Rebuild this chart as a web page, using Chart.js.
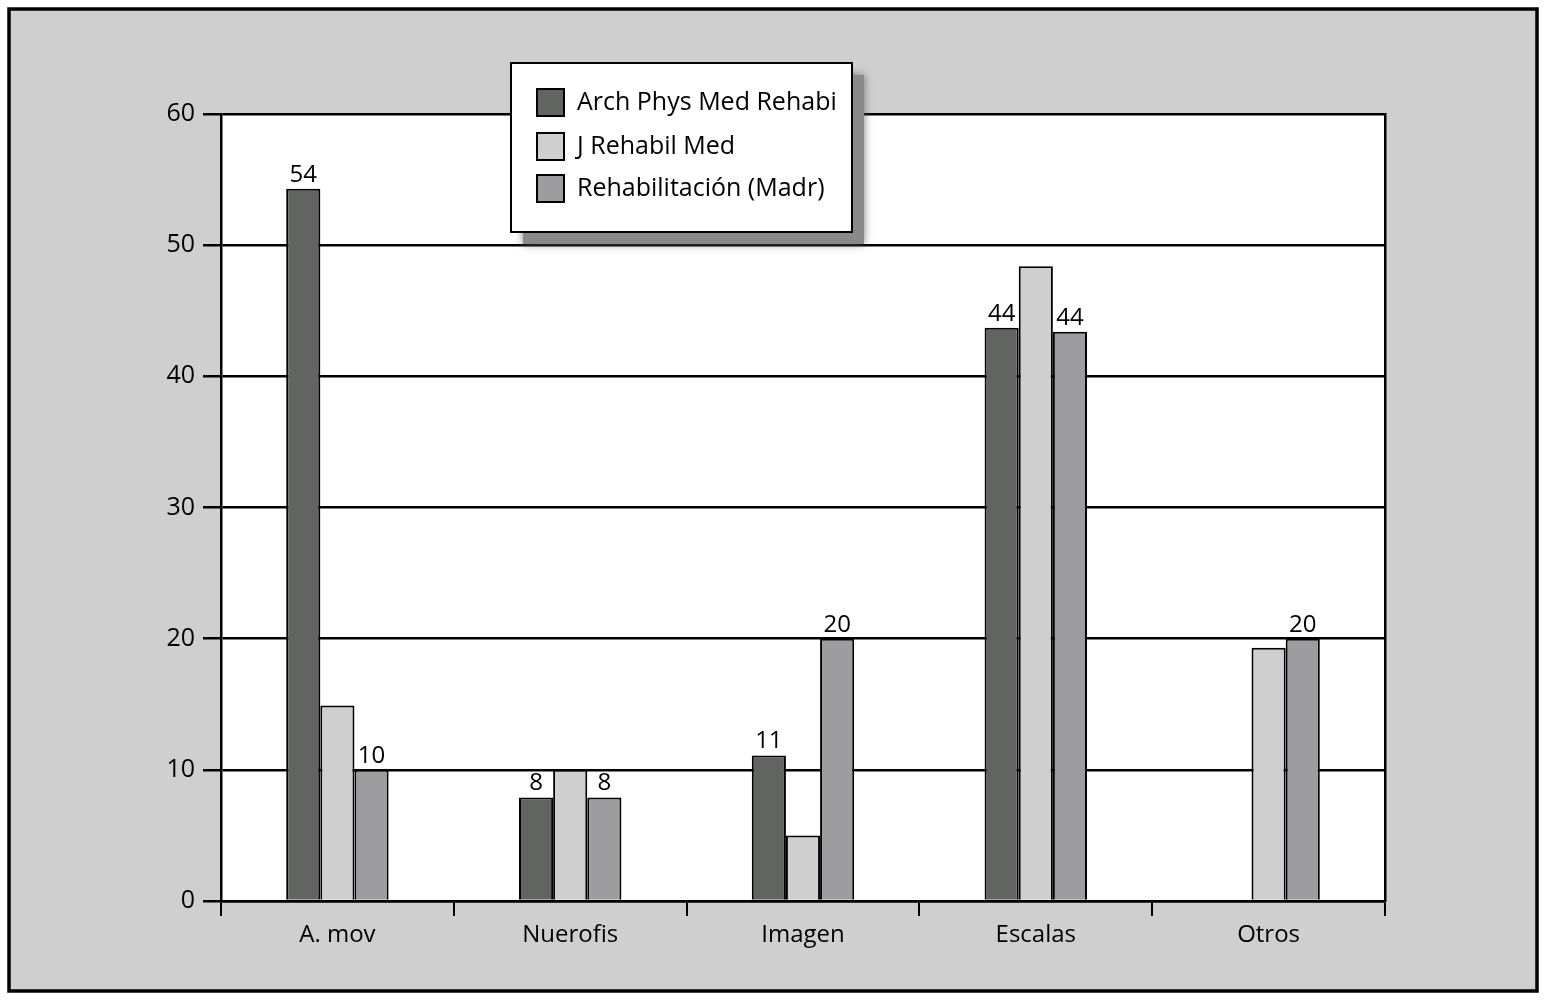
<!DOCTYPE html>
<html>
<head>
<meta charset="utf-8">
<title>Chart</title>
<script src="https://cdn.jsdelivr.net/npm/chart.js@4.4.1/dist/chart.umd.min.js"></script>
<style>
  html, body { margin: 0; padding: 0; background: #fff; }
  #wrap { width: 1555px; height: 1005px; }
</style>
</head>
<body>
<div id="wrap"><canvas id="chart"></canvas></div>
<script>
// categories
var categories = ["A. mov", "Nuerofis", "Imagen", "Escalas", "Otros"];

// series values
var archPhys = [54.3, 7.9, 11.1, 43.7, 0];
var jRehabil = [14.9, 10, 5, 48.4, 19.3];
var rehabMadr = [10, 7.9, 20, 43.4, 20];

// value labels shown above bars (null = no label)
var archPhysLabels = ["54", "8", "11", "44", null];
var jRehabilLabels = [null, null, null, null, null];
var rehabMadrLabels = ["10", "8", "20", "44", "20"];

// y ticks
var yMin = 0, yMax = 60, yStep = 10;

var FONT = "'Open Sans', 'DejaVu Sans', sans-serif";

// grey page with black frame
var background = {
    id: 'background',
    beforeDraw: function (chart) {
        var ctx = chart.ctx;
        ctx.save();
        ctx.fillStyle = '#fff';
        ctx.fillRect(0, 0, chart.width, chart.height);
        ctx.fillStyle = '#cfcfcf';
        ctx.fillRect(9, 9, 1528, 982);
        ctx.strokeStyle = '#000';
        ctx.lineWidth = 3.5;
        ctx.strokeRect(9, 9, 1528, 982);
        var a = chart.chartArea;
        ctx.fillStyle = '#fff';
        ctx.fillRect(a.left, a.top, a.right - a.left, a.bottom - a.top);
        ctx.restore();
    }
};

// numbers above some bars
var valueLabels = {
    id: 'valueLabels',
    afterDatasetsDraw: function (chart) {
        var ctx = chart.ctx;
        ctx.save();
        ctx.font = '24px ' + FONT;
        ctx.fillStyle = '#000';
        ctx.textAlign = 'center';
        ctx.textBaseline = 'bottom';
        chart.data.datasets.forEach(function (ds, i) {
            var meta = chart.getDatasetMeta(i);
            meta.data.forEach(function (bar, j) {
                var txt = ds.valueLabels[j];
                if (txt) ctx.fillText(txt, bar.x, bar.y - 2);
            });
        });
        ctx.restore();
    }
};

// boxed legend with drop shadow, floating over the plot
var boxLegend = {
    id: 'boxLegend',
    afterDraw: function (chart) {
        var ctx = chart.ctx;
        var x = 511, y = 63, w = 341, h = 169;
        ctx.save();
        ctx.fillStyle = '#8a8a8a';
        ctx.shadowColor = 'rgba(90,90,90,0.8)';
        ctx.shadowBlur = 8;
        ctx.fillRect(x + 12, y + 12, w, h);
        ctx.shadowBlur = 0;
        ctx.fillStyle = '#fff';
        ctx.fillRect(x, y, w, h);
        ctx.strokeStyle = '#000';
        ctx.lineWidth = 2;
        ctx.strokeRect(x, y, w, h);
        ctx.font = '25px ' + FONT;
        ctx.textBaseline = 'middle';
        ctx.textAlign = 'left';
        var rows = [103, 147, 189];
        chart.data.datasets.forEach(function (ds, i) {
            ctx.fillStyle = ds.backgroundColor;
            ctx.fillRect(537, rows[i] - 14, 27, 27);
            ctx.strokeRect(537, rows[i] - 14, 27, 27);
            ctx.fillStyle = '#000';
            ctx.fillText(ds.label, 577, rows[i]);
        });
        ctx.restore();
    }
};

var ctx = document.getElementById('chart').getContext('2d');
var chart = new Chart(ctx, {
    type: 'bar',
    data: {
        labels: categories,
        datasets: [{
            label: 'Arch Phys Med Rehabi',
            data: archPhys,
            valueLabels: archPhysLabels,
            backgroundColor: '#626462',
            borderColor: '#000',
            borderWidth: 2
        }, {
            label: 'J Rehabil Med',
            data: jRehabil,
            valueLabels: jRehabilLabels,
            backgroundColor: '#cfcfcf',
            borderColor: '#000',
            borderWidth: 2
        }, {
            label: 'Rehabilitación (Madr)',
            data: rehabMadr,
            valueLabels: rehabMadrLabels,
            backgroundColor: '#9d9c9e',
            borderColor: '#000',
            borderWidth: 2
        }]
    },
    options: {
        responsive: true,
        maintainAspectRatio: false,
        animation: false,
        categoryPercentage: 0.44,
        barPercentage: 1.0,
        layout: { padding: { top: 114, right: 170, left: 0, bottom: 0 } },
        plugins: {
            legend: { display: false },
            tooltip: { enabled: false }
        },
        scales: {
            x: {
                grid: {
                    offset: true,
                    drawOnChartArea: false,
                    drawTicks: true,
                    tickLength: 15,
                    color: '#000',
                    lineWidth: 2
                },
                border: { display: true, color: '#000', width: 2.5 },
                ticks: { color: '#000', font: { family: FONT, size: 24 }, padding: 5 },
                afterFit: function (scale) { scale.height = 104; }
            },
            y: {
                min: yMin,
                max: yMax,
                ticks: { stepSize: yStep, color: '#000', font: { family: FONT, size: 25 }, padding: 8 },
                grid: { color: '#000', lineWidth: 2.5, drawTicks: true, tickLength: 18 },
                border: { display: true, color: '#000', width: 2.5 },
                afterFit: function (scale) { scale.width = 221; }
            },
            y2: {
                position: 'right',
                min: yMin,
                max: yMax,
                ticks: { display: false },
                grid: { drawOnChartArea: false, drawTicks: false },
                border: { display: true, color: '#000', width: 2.5 },
                afterFit: function (scale) { scale.width = 0; }
            }
        }
    },
    plugins: [background, valueLabels, boxLegend]
});
</script>
</body>
</html>
